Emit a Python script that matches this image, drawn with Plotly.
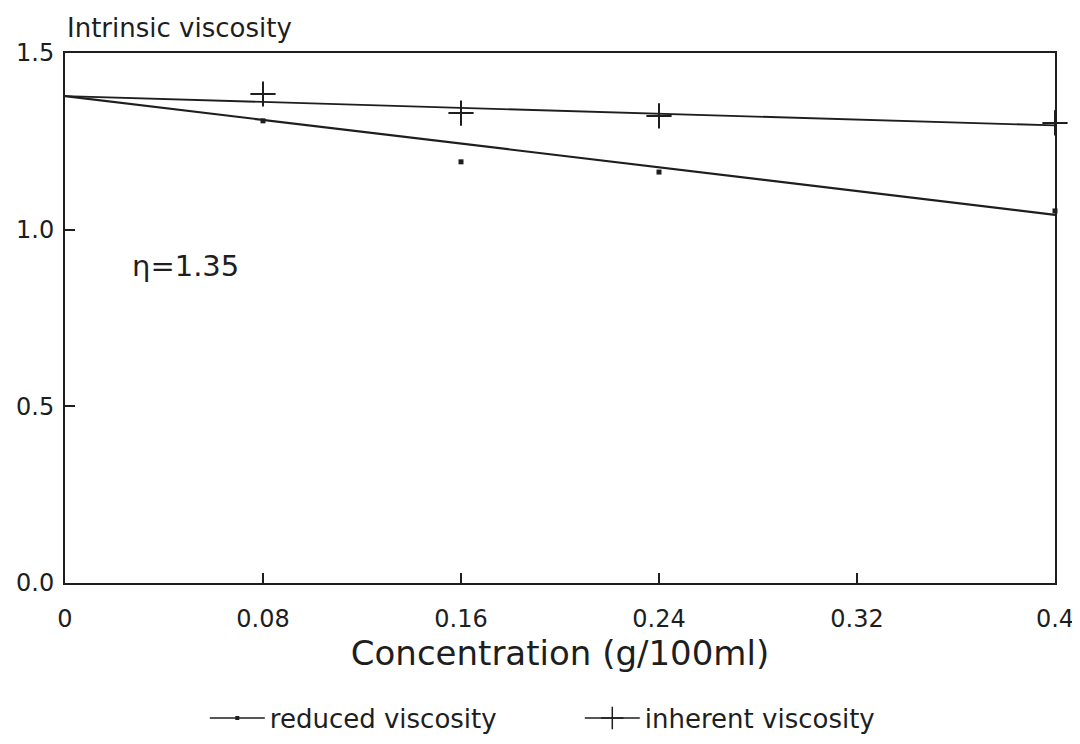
import plotly.graph_objects as go

# Data
conc = [0.08, 0.16, 0.24, 0.40]
reduced = [1.308, 1.192, 1.163, 1.053]
inherent = [1.384, 1.330, 1.322, 1.302]
fit_x = [0.0, 0.40]
reduced_fit = [1.378, 1.042]
inherent_fit = [1.378, 1.295]
x_ticks = [0, 0.08, 0.16, 0.24, 0.32, 0.4]
x_tick_labels = ["0", "0.08", "0.16", "0.24", "0.32", "0.4"]
y_ticks = [0.0, 0.5, 1.0, 1.5]
y_tick_labels = ["0.0", "0.5", "1.0", "1.5"]

FONT = "DejaVu Sans"
INK = "#1e1e1e"

fig = go.Figure()

# fit lines
fig.add_trace(go.Scatter(x=fit_x, y=reduced_fit, mode="lines",
                         line=dict(color=INK, width=2.2), showlegend=False,
                         cliponaxis=False))
fig.add_trace(go.Scatter(x=fit_x, y=inherent_fit, mode="lines",
                         line=dict(color=INK, width=1.8), showlegend=False,
                         cliponaxis=False))
# data points
fig.add_trace(go.Scatter(x=conc, y=reduced, mode="markers",
                         marker=dict(symbol="square", size=5, color=INK),
                         showlegend=False, cliponaxis=False))
fig.add_trace(go.Scatter(x=conc, y=inherent, mode="markers",
                         marker=dict(symbol="cross-thin", size=18,
                                     line=dict(color=INK, width=2)),
                         showlegend=False, cliponaxis=False))
# legend entries
fig.add_trace(go.Scatter(x=[None], y=[None], mode="lines+markers",
                         name="reduced viscosity",
                         line=dict(color=INK, width=1.5),
                         marker=dict(symbol="square", size=4, color=INK)))
fig.add_trace(go.Scatter(x=[None], y=[None], mode="lines+markers",
                         name="inherent viscosity",
                         line=dict(color=INK, width=1.5),
                         marker=dict(symbol="cross-thin", size=16,
                                     line=dict(color=INK, width=1.5))))

fig.add_annotation(x=0.0485, y=0.897, xref="x", yref="y", text="η=1.35",
                   showarrow=False, font=dict(family=FONT, size=29, color=INK))
fig.add_annotation(x=0.0, y=1.0, xref="paper", yref="paper", yshift=25,
                   xanchor="left", yanchor="middle", showarrow=False,
                   text="Intrinsic viscosity",
                   font=dict(family=FONT, size=26, color=INK))

fig.update_xaxes(range=[0, 0.4], tickvals=x_ticks, ticktext=x_tick_labels,
                 ticks="inside", ticklen=10, tickwidth=1.5, tickcolor=INK,
                 showline=True, linecolor=INK, linewidth=2, mirror=True,
                 showgrid=False, zeroline=False, automargin=False,
                 ticklabeloverflow="allow",
                 tickfont=dict(family=FONT, size=24, color=INK),
                 ticklabelstandoff=13,
                 title=dict(text="Concentration (g/100ml)",
                            font=dict(family=FONT, size=34, color=INK),
                            standoff=9))
fig.update_yaxes(range=[0, 1.5], tickvals=y_ticks, ticktext=y_tick_labels,
                 ticks="inside", ticklen=10, tickwidth=1.5, tickcolor=INK,
                 showline=True, linecolor=INK, linewidth=2, mirror=True,
                 showgrid=False, zeroline=False, automargin=False,
                 tickfont=dict(family=FONT, size=24, color=INK),
                 ticklabelstandoff=4)

fig.update_layout(
    width=1072, height=728,
    margin=dict(l=57, r=25, t=45, b=153, autoexpand=False),
    paper_bgcolor="white", plot_bgcolor="white",
    font=dict(family=FONT, color=INK),
    legend=dict(orientation="h", x=0.52, xanchor="center", y=-0.255,
                yanchor="middle", font=dict(family=FONT, size=26, color=INK),
                itemwidth=55, entrywidth=305, bgcolor="rgba(0,0,0,0)"),
)

fig.write_html("out.html")
